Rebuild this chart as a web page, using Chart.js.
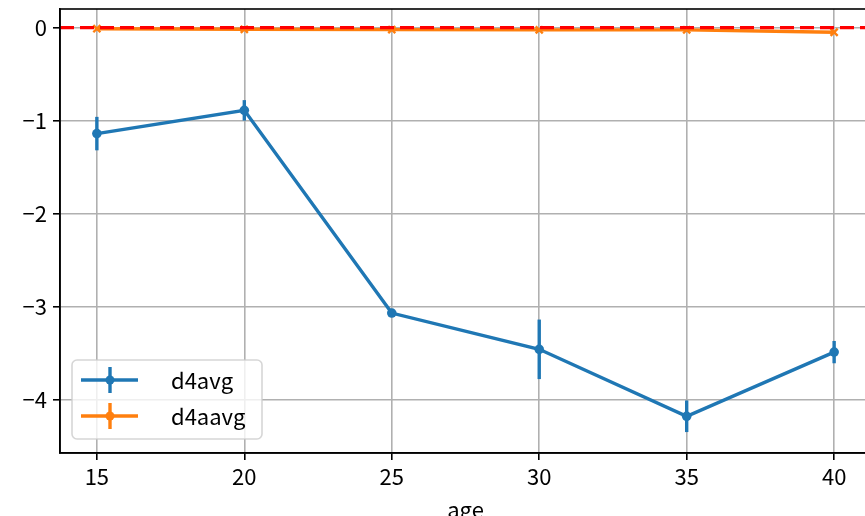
<!DOCTYPE html>
<html>
<head>
<meta charset="utf-8">
<script src="https://cdn.jsdelivr.net/npm/chart.js@4.4.1/dist/chart.umd.min.js"></script>
<style>
html,body{margin:0;padding:0;background:#fff;overflow:hidden;width:865px;height:516px;}
#outer{position:relative;width:865px;height:516px;overflow:hidden;}
#inner{position:absolute;left:0;top:0;width:872px;height:516px;}
#c{display:block;width:872px;height:516px;}
</style>
</head>
<body>
<div id="outer"><div id="inner"><canvas id="c" width="872" height="516" style="width:872px;height:516px"></canvas></div></div>
<script>
// ---- data ----
const ages = [15, 20, 25, 30, 35, 40];
const d4avg = [-1.14, -0.89, -3.07, -3.46, -4.18, -3.49];
const d4avgErr = [0.18, 0.11, 0.02, 0.32, 0.17, 0.12];
const d4aavg = [-0.012, -0.018, -0.022, -0.024, -0.025, -0.05];
const d4aavgErr = [0.008, 0.008, 0.008, 0.008, 0.008, 0.01];
const seriesLabels = ['d4avg', 'd4aavg'];
const xTicks = [15, 20, 25, 30, 35, 40];
const yTicks = [-4, -3, -2, -1, 0];
const xLabel = 'age';

const FONT = '"Noto Sans CJK JP", "DejaVu Sans", sans-serif';
const BLUE = '#1f77b4', ORANGE = '#ff7f0e';

function pts(xs, ys){ return xs.map((x,i)=>({x:x, y:ys[i]})); }

const errPlugin = {
  id: 'errbars',
  beforeDatasetsDraw(chart){
    const ctx = chart.ctx, xs = chart.scales.x, ys = chart.scales.y;
    const sets = [[d4avg, d4avgErr, BLUE],[d4aavg, d4aavgErr, ORANGE]];
    ctx.save();
    const a = chart.chartArea;
    ctx.beginPath(); ctx.rect(a.left, a.top, a.right-a.left, a.bottom-a.top); ctx.clip();
    ctx.lineWidth = 3.4;
    sets.forEach(([vals, errs, col])=>{
      ctx.strokeStyle = col;
      vals.forEach((v,i)=>{
        const px = xs.getPixelForValue(ages[i]);
        ctx.beginPath();
        ctx.moveTo(px, ys.getPixelForValue(v+errs[i]));
        ctx.lineTo(px, ys.getPixelForValue(v-errs[i]));
        ctx.stroke();
      });
    });
    ctx.restore();
  },
  afterDatasetsDraw(chart){
    const ctx = chart.ctx, a = chart.chartArea, ys = chart.scales.y;
    ctx.save();
    ctx.beginPath(); ctx.rect(a.left, a.top, a.right-a.left, a.bottom-a.top); ctx.clip();
    const y0 = ys.getPixelForValue(0);
    ctx.strokeStyle = '#ff0000'; ctx.lineWidth = 3.2; ctx.setLineDash([14,6]);
    ctx.beginPath(); ctx.moveTo(a.left, y0); ctx.lineTo(a.right, y0); ctx.stroke();
    ctx.restore();
  },
  afterDraw(chart){
    const ctx = chart.ctx, a = chart.chartArea;
    ctx.save();
    ctx.strokeStyle = '#000'; ctx.lineWidth = 1.6;
    ctx.strokeRect(a.left, a.top, a.right-a.left, a.bottom-a.top);
    // legend
    const lx = 72, ly = 360, lw = 190, lh = 79;
    ctx.fillStyle = 'rgba(255,255,255,0.8)';
    ctx.strokeStyle = 'rgba(204,204,204,0.8)'; ctx.lineWidth = 1.6;
    ctx.beginPath();
    if (ctx.roundRect) ctx.roundRect(lx, ly, lw, lh, 5); else ctx.rect(lx, ly, lw, lh);
    ctx.fill(); ctx.stroke();
    const rows = [[BLUE, 380], [ORANGE, 416]];
    rows.forEach(([col, y], i)=>{
      ctx.strokeStyle = col; ctx.fillStyle = col; ctx.lineWidth = 3.4;
      ctx.beginPath(); ctx.moveTo(81, y); ctx.lineTo(138, y); ctx.stroke();
      ctx.beginPath(); ctx.moveTo(110, y-13); ctx.lineTo(110, y+13); ctx.stroke();
      ctx.beginPath(); ctx.arc(110, y, 4.5, 0, Math.PI*2); ctx.fill();
      ctx.fillStyle = '#000'; ctx.font = '22px ' + FONT;
      ctx.textBaseline = 'middle'; ctx.textAlign = 'left';
      ctx.fillText(seriesLabels[i], 171, y+1);
    });
    ctx.fillStyle = '#000'; ctx.font = '22px ' + FONT;
    ctx.textAlign = 'center'; ctx.textBaseline = 'top';
    ctx.fillText(xLabel, (a.left+a.right)/2, 499);
    ctx.restore();
  }
};

const tickFmt = v => (v < 0 ? '\u2212' + Math.abs(v) : String(v));

new Chart(document.getElementById('c'), {
  type: 'scatter',
  data: {
    datasets: [
      { label: seriesLabels[0], data: pts(ages, d4avg), showLine: true,
        borderColor: BLUE, backgroundColor: BLUE, borderWidth: 3.4,
        pointRadius: 4.8, pointStyle: 'circle', pointBorderWidth: 0 },
      { label: seriesLabels[1], data: pts(ages, d4aavg), showLine: true,
        borderColor: ORANGE, backgroundColor: ORANGE, borderWidth: 3.4,
        pointRadius: 5, pointStyle: 'cross', pointRotation: 45, pointBorderWidth: 2.4 }
    ]
  },
  options: {
    responsive: false, maintainAspectRatio: false, animation: false, devicePixelRatio: 1,
    layout: { autoPadding: false, padding: { left: 0, top: 9, right: 1, bottom: 0 } },
    plugins: { legend: { display: false }, tooltip: { enabled: false } },
    scales: {
      x: {
        type: 'linear', min: 13.75, max: 41.25,
        afterFit(s){ s.height = 63; s.paddingLeft = 0; s.paddingRight = 0; },
        afterBuildTicks(s){ s.ticks = xTicks.map(v=>({value:v})); },
        grid: { color: '#b0b0b0', lineWidth: 1.6, tickColor: '#000', tickLength: 7 },
        border: { color: '#000', width: 1.6 },
        ticks: { color: '#000', font: { family: FONT, size: 22 }, padding: 3, maxRotation: 0 }
      },
      y: {
        type: 'linear', min: -4.575, max: 0.2,
        afterFit(s){ s.width = 60; s.paddingTop = 0; s.paddingBottom = 0; },
        afterBuildTicks(s){ s.ticks = yTicks.map(v=>({value:v})); },
        grid: { color: '#b0b0b0', lineWidth: 1.6, tickColor: '#000', tickLength: 7 },
        border: { color: '#000', width: 1.6 },
        ticks: { color: '#000', font: { family: FONT, size: 22 }, padding: 6, callback: tickFmt }
      }
    }
  },
  plugins: [errPlugin]
});
</script>
</body>
</html>
